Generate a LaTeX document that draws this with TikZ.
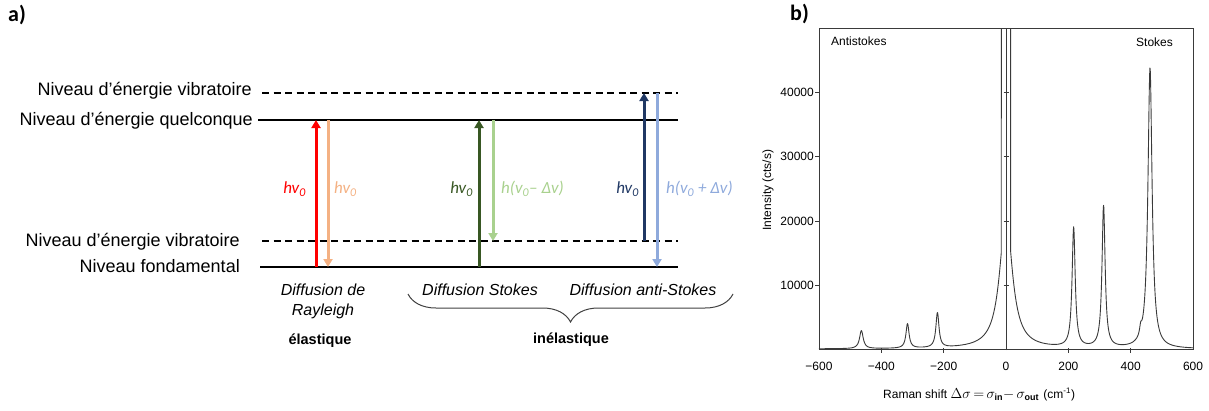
\documentclass[tikz,border=0pt]{standalone}
\usepackage{fontspec}
\setmainfont{Liberation Sans}
\newfontfamily\carl{Carlito}
\usetikzlibrary{arrows.meta,decorations.pathreplacing}
\definecolor{cRed}{HTML}{FF0000}
\definecolor{cPeach}{HTML}{F4B183}
\definecolor{cDkGreen}{HTML}{385723}
\definecolor{cLtGreen}{HTML}{A9D18E}
\definecolor{cNavy}{HTML}{203864}
\definecolor{cLtBlue}{HTML}{8FAADC}
\definecolor{cPlot}{HTML}{3A3A3A}
\begin{document}
\begin{tikzpicture}[x=1pt,y=-1pt,
  lvllabel/.style={anchor=base east,font=\fontsize{18}{20}\selectfont,inner sep=0pt},
  solidlvl/.style={line width=1.5pt},
  dashlvl/.style={line width=1.5pt,dash pattern=on 7pt off 4.5pt},
  trans/.style={line width=3pt,-{Triangle[width=9pt,length=8pt]}},
  hvlab/.style={font=\carl\itshape\fontsize{17}{19}\selectfont,inner sep=0pt},
  difflab/.style={anchor=base,font=\itshape\fontsize{16}{20}\selectfont,inner sep=0pt,align=center},
  kindlab/.style={anchor=base,font=\bfseries\fontsize{14.5}{17}\selectfont,inner sep=0pt},
  panel/.style={anchor=base west,font=\carl\bfseries\fontsize{22}{24}\selectfont,inner sep=0pt},
  plottext/.style={font=\fontsize{12}{14}\selectfont,inner sep=0pt},
  frame/.style={draw=cPlot,line width=0.9pt},
  curve/.style={draw=cPlot,line width=0.9pt,line join=round},
  declare function={
    lz(\d,\g)=(\g*\g)/((\d)*(\d)+\g*\g);
    ram(\x)=0.015+0.28*lz(\x+4.64,0.07)+0.38*lz(\x+3.16,0.06)+0.54*lz(\x+2.2,0.06)
      +2.09*lz(\x,0.239)+1.86*lz(\x-2.17,0.06)+2.2*lz(\x-3.13,0.06)
      +4.35*lz(\x-4.62,0.08)+0.12*lz(\x-4.32,0.04);
  }]
\useasboundingbox (0,0) rectangle (1209,410);

% ---------------- panel a ----------------
\node[panel] (pa) at (8,21) {a)};

\coordinate (vTopL) at (262,93);  \coordinate (vTopR) at (678,93);
\coordinate (qL) at (258,120);    \coordinate (qR) at (678,120);
\coordinate (vLowL) at (262,241); \coordinate (vLowR) at (678,241);
\coordinate (fL) at (260,267);    \coordinate (fR) at (678,267);

\draw[dashlvl] (vTopL) -- (vTopR);
\draw[solidlvl] (qL) -- (qR);
\draw[dashlvl] (vLowL) -- (vLowR);
\draw[solidlvl] (fL) -- (fR);

\node[lvllabel] (lvTop) at (252,95) {Niveau d’énergie vibratoire};
\node[lvllabel] (lq) at (253,125) {Niveau d’énergie quelconque};
\node[lvllabel] (lvLow) at (240,246) {Niveau d’énergie vibratoire};
\node[lvllabel] (lf) at (240,272) {Niveau fondamental};

% Rayleigh
\coordinate (r0) at (316,267); \coordinate (r1) at (316,120);
\coordinate (p0) at (328,120); \coordinate (p1) at (328,267);
\draw[trans,cRed] (r0) -- (r1);
\draw[trans,cPeach] (p0) -- (p1);
\node[hvlab,text=cRed,anchor=east] (hr) at (306,189) {hv\textsubscript{0}};
\node[hvlab,text=cPeach,anchor=west] (hp) at (334,189) {hv\textsubscript{0}};

% Stokes
\coordinate (g0) at (479,267); \coordinate (g1) at (479,120);
\coordinate (lg0) at (493,120); \coordinate (lg1) at (493,241);
\draw[trans,cDkGreen] (g0) -- (g1);
\draw[trans,cLtGreen] (lg0) -- (lg1);
\node[hvlab,text=cDkGreen,anchor=east] (hg) at (473,189) {hv\textsubscript{0}};
\node[hvlab,text=cLtGreen,anchor=west] (hlg) at (501,189) {h(v\textsubscript{0}– Δv)};

% anti-Stokes
\coordinate (n0) at (644,241); \coordinate (n1) at (644,93);
\coordinate (b0) at (657,93); \coordinate (b1) at (657,267);
\draw[trans,cNavy] (n0) -- (n1);
\draw[trans,cLtBlue] (b0) -- (b1);
\node[hvlab,text=cNavy,anchor=east] (hn) at (639,189) {hv\textsubscript{0}};
\node[hvlab,text=cLtBlue,anchor=west] (hb) at (666,189) {h(v\textsubscript{0} + Δv)};

\node[difflab] (dR) at (323,315) {Diffusion de\\Rayleigh};
\node[difflab] (dS) at (480,295) {Diffusion Stokes};
\node[difflab] (dA) at (643,295) {Diffusion anti-Stokes};
\coordinate (brL) at (408,294); \coordinate (brR) at (733,294);
\draw[line width=1pt,draw=black!75,decorate,decoration={brace,mirror,amplitude=28pt,aspect=0.5}] (brL) -- (brR);
\node[kindlab] (el) at (320,344) {élastique};
\node[kindlab] (inel) at (571,343) {inélastique};

% ---------------- panel b ----------------
\node[panel] (pb) at (790,20) {b)};
\draw[frame] (819,28) rectangle (1193,349.5);
\node[plottext,anchor=base west] (anti) at (831,45) {Antistokes};
\node[plottext,anchor=base west] (stk) at (1136,46.5) {Stokes};
\node[plottext,rotate=90] (ylab) at (768,190) {Intensity (cts/s)};
\node[plottext,anchor=base west] (xlab) at (883,398) {Raman shift \fontsize{15}{15}\selectfont$\Delta\sigma\,{=}\,\sigma_{\mbox{\fontsize{9}{9}\selectfont\bfseries in}}{-}\,\sigma_{\mbox{\fontsize{9}{9}\selectfont\bfseries out}}$ \fontsize{12}{14}\selectfont(cm\textsuperscript{-1})};

\begin{scope}[shift={(1006pt,-350pt)},x=31.17pt,y=64.5pt]
  % central axis with ticks
  \draw[cPlot,line width=0.8pt] (0,0) -- (0,4.99);
  \foreach \k in {1,2,3,4} {
    \draw[cPlot,line width=0.8pt] (0,\k) ++(-2.5pt,0) -- ++(5pt,0);
    \draw[cPlot,line width=0.8pt] (-6,\k) -- ++(-4pt,0);
    \node[plottext,anchor=east] at ([xshift=-5pt]-6,\k) {\k0000};
  }
  \foreach \t in {-4,-2,2,4} {
    \draw[cPlot,line width=0.8pt] (\t,0) ++(0,2pt) -- ++(0,-5pt);
  }
  \foreach \t/\lab in {-6/−600,-4/−400,-2/−200,0/0,2/200,4/400,6/600} {
    \node[plottext,anchor=base] at ([yshift=-20pt]\t,0) {\lab};
  }
  % spectrum
  \draw[curve] plot[domain=-6:-0.15,samples=586] (\x,{ram(\x)}) -- (-0.15,4.99);
  \draw[curve] (0.15,4.99) -- plot[domain=0.15:6,samples=586] (\x,{ram(\x)});
\end{scope}
\end{tikzpicture}
\end{document}
